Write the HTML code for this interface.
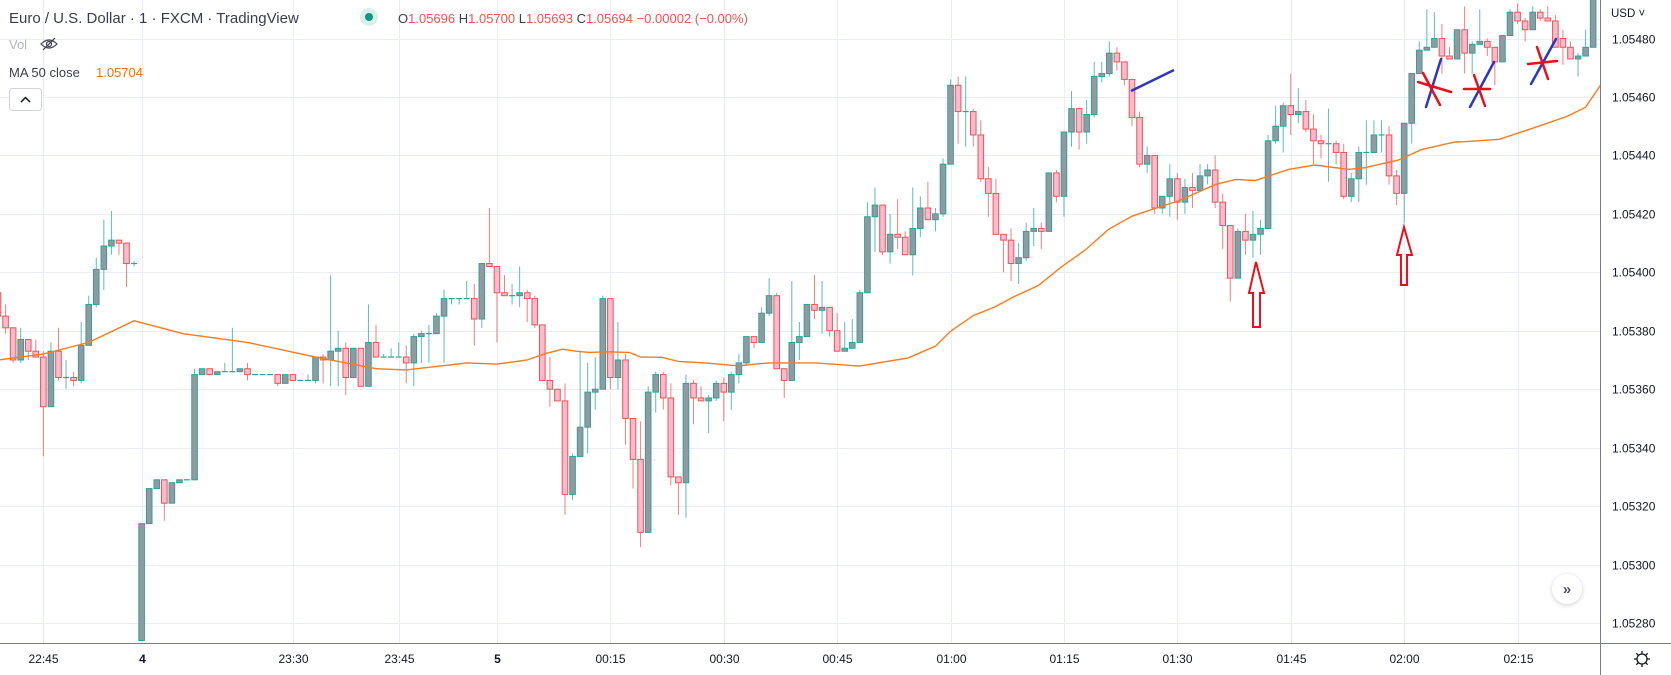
<!DOCTYPE html>
<html><head><meta charset="utf-8">
<style>
html,body{margin:0;padding:0;background:#fff;overflow:hidden}
svg{display:block;font-family:"Liberation Sans",sans-serif}
</style></head>
<body>
<svg id="chart" width="1671" height="675" viewBox="0 0 1671 675" xmlns="http://www.w3.org/2000/svg">
  <rect x="0" y="0" width="1671" height="675" fill="#ffffff"/>
  <defs><clipPath id="plotClip"><rect x="0" y="0" width="1600" height="643"/></clipPath>
  <filter id="sh" x="-50%" y="-50%" width="200%" height="200%"><feDropShadow dx="0" dy="1" stdDeviation="2" flood-color="#000" flood-opacity="0.2"/></filter></defs>
  <g id="grid"></g>
  <g id="plot" clip-path="url(#plotClip)">
    <g id="candles"></g>
    <polyline id="ma" fill="none" stroke="#ff7a1a" stroke-width="1.4"/>
    <g id="annotations">
      <line x1="1131" y1="91" x2="1174" y2="70" stroke="#2d35c8" stroke-width="2.5"/>
      <path d="M1256 262 L1264 293 L1260 293 L1260 327 L1253 327 L1253 293 L1249 293 Z" fill="none" stroke="#e8111a" stroke-width="2"/>
      <path d="M1404 227 L1412 255 L1407 255 L1407 285 L1401 285 L1401 255 L1397 255 Z" fill="none" stroke="#e8111a" stroke-width="2"/>
      <g stroke-width="2.5" stroke-linecap="round">
        <line x1="1426" y1="107" x2="1441" y2="59" stroke="#2d35c8"/>
        <line x1="1418" y1="82" x2="1451" y2="92" stroke="#e8111a"/>
        <line x1="1423" y1="73" x2="1440" y2="105" stroke="#e8111a"/>
      </g>
      <g stroke-width="2.5" stroke-linecap="round">
        <line x1="1470" y1="107" x2="1494" y2="62" stroke="#2d35c8"/>
        <line x1="1464" y1="89" x2="1490" y2="89" stroke="#e8111a"/>
        <line x1="1474" y1="75" x2="1485" y2="106" stroke="#e8111a"/>
      </g>
      <g stroke-width="2.5" stroke-linecap="round">
        <line x1="1531" y1="84" x2="1556" y2="39" stroke="#2d35c8"/>
        <line x1="1528" y1="64" x2="1557" y2="61" stroke="#e8111a"/>
        <line x1="1537" y1="47" x2="1548" y2="79" stroke="#e8111a"/>
      </g>
    </g>
  </g>
  <line x1="1600.5" y1="0" x2="1600.5" y2="675" stroke="#787b86" stroke-width="1"/>
  <line x1="0" y1="643.5" x2="1671" y2="643.5" stroke="#787b86" stroke-width="1"/>
  <g id="yaxis" font-size="12" fill="#131722"></g>
  <g id="xaxis" font-size="12" fill="#131722"></g>
  <text x="1611" y="17" font-size="11.5" fill="#131722">USD ˅</text>
  <g transform="translate(1642,659)" fill="none" stroke="#131722" stroke-width="1.3">
    <circle r="5"/>
    <path d="M0 -8 V-5 M0 5 V8 M-8 0 H-5 M5 0 H8 M-5.7 -5.7 L-3.5 -3.5 M3.5 3.5 L5.7 5.7 M-5.7 5.7 L-3.5 3.5 M3.5 -3.5 L5.7 -5.7"/>
  </g>
  <g>
    <circle cx="1567" cy="589" r="15" fill="#fff" filter="url(#sh)"/>
    <text x="1567" y="594" font-size="15" font-weight="bold" fill="#50535e" text-anchor="middle">»</text>
  </g>
  <!-- legend -->
  <text x="9" y="23" font-size="15" fill="#3a3e4a">Euro / U.S. Dollar · 1 · FXCM · TradingView</text>
  <circle cx="369" cy="17" r="9" fill="#d9f0eb"/>
  <circle cx="369" cy="17" r="4" fill="#089981"/>
  <text x="398" y="23" font-size="13" fill="#3a3e4a">O<tspan fill="#ef5350">1.05696</tspan> H<tspan fill="#ef5350">1.05700</tspan> L<tspan fill="#ef5350">1.05693</tspan> C<tspan fill="#ef5350">1.05694</tspan> <tspan fill="#ef5350">−0.00002 (−0.00%)</tspan></text>
  <text x="9" y="49" font-size="13" fill="#b2b5be">Vol</text>
  <g transform="translate(49,44)" fill="none" stroke="#3a3e4a" stroke-width="1.2">
    <path d="M-8 0 Q0 -8 8 0 Q0 8 -8 0 Z"/><circle r="2.5"/><line x1="-6" y1="6" x2="6" y2="-6"/>
  </g>
  <text x="9" y="77" font-size="13" fill="#3a3e4a">MA 50 close</text>
  <text x="96" y="77" font-size="13" fill="#ff6d00">1.05704</text>
  <g>
    <rect x="9.5" y="88.5" width="32" height="22" rx="3" fill="#fff" stroke="#d1d4dc"/>
    <path d="M21 102 L25.5 97.5 L30 102" fill="none" stroke="#131722" stroke-width="1.5"/>
  </g>
</svg>
<script>
// price values in units of 0.00001 above 1.05000
const openV=[393,385,381,370,377,373,371,354,373,364,364,363,375,389,401,409,411,410,403,274,314,326,329,321,328,329,329,365,367,365,366,366,366,367,365,365,365,365,362,365,363,363,363,371,370,373,374,364,374,361,376,371,371,371,371,369,378,379,379,385,391,391,391,391,384,403,402,393,392,392,393,391,382,363,360,356,324,337,347,359,360,391,364,370,350,336,311,359,365,357,330,328,362,357,356,357,362,359,365,369,378,376,386,392,367,363,376,378,389,387,388,380,373,374,376,393,419,423,407,413,412,406,415,422,418,420,437,464,455,455,447,432,427,413,411,403,405,414,415,414,434,426,448,456,448,454,467,468,475,472,466,453,437,440,422,426,432,424,429,428,433,435,424,416,398,414,411,413,415,445,450,457,454,455,449,445,444,444,441,426,432,441,441,447,447,433,427,451,468,476,477,480,474,473,483,475,478,479,477,472,481,489,486,483,489,487,486,480,477,473,474,477];
const highV=[394,389,381,381,377,377,373,376,381,370,366,383,392,405,418,421,411,410,404,314,326,329,329,328,329,329,367,367,367,366,369,381,367,369,365,365,365,365,365,365,363,365,371,372,399,380,376,374,374,389,382,372,374,376,375,379,380,382,386,394,391,391,397,396,403,422,402,399,396,402,394,392,382,371,360,362,338,373,369,371,392,391,383,372,350,349,361,366,366,362,330,365,363,361,358,363,364,366,372,378,378,388,398,393,367,397,383,389,399,397,388,386,383,384,394,424,429,423,420,425,414,429,426,431,422,439,466,467,467,456,452,436,432,413,415,410,417,422,417,434,435,448,462,456,459,472,472,479,477,472,466,455,443,440,426,437,434,432,434,437,437,440,427,416,415,420,421,418,447,457,458,468,463,459,454,447,456,445,444,434,443,452,452,452,450,435,451,468,479,490,489,485,477,483,491,479,490,480,477,481,490,492,487,491,490,491,488,483,479,475,483,500];
const lowV=[384,379,369,369,370,371,337,354,363,360,361,362,375,388,394,406,406,395,402,274,314,326,315,321,328,329,329,365,365,365,366,366,366,363,365,365,365,361,362,363,363,363,362,362,361,361,358,364,361,361,371,371,371,371,362,361,369,369,379,369,389,389,391,375,381,402,376,392,389,388,383,381,363,354,356,317,322,337,338,353,360,360,360,341,326,306,311,352,353,327,317,316,348,356,345,356,349,353,362,368,374,376,385,367,357,363,370,378,384,379,378,373,373,374,376,393,407,406,403,408,406,399,412,418,414,419,437,444,443,443,431,419,413,400,397,396,404,409,408,414,424,419,443,442,444,453,465,467,469,464,450,436,434,420,420,419,418,420,422,428,430,422,408,390,398,406,405,406,415,444,441,447,451,448,437,439,431,437,425,424,424,430,441,441,430,423,417,444,468,476,477,468,473,473,468,468,478,474,464,472,481,485,479,483,486,486,477,471,473,467,474,477];
const closeV=[385,381,370,377,373,371,354,373,364,364,363,375,389,401,409,411,410,403,403,314,326,329,321,328,329,329,365,367,365,366,366,366,367,365,365,365,365,362,365,363,363,363,371,370,373,374,364,374,361,376,371,371,371,371,369,378,379,379,385,391,391,391,391,384,403,402,393,392,392,393,391,382,363,360,356,324,337,347,359,360,391,364,370,350,336,311,359,365,357,330,328,362,357,356,357,362,359,365,369,378,376,386,392,367,363,376,378,389,387,388,380,373,374,376,393,419,423,407,413,412,406,415,422,418,420,437,464,455,455,447,432,427,413,411,403,405,414,415,414,434,426,448,456,448,454,467,468,475,472,466,453,437,440,422,426,432,424,429,428,433,435,424,416,398,414,411,413,415,445,450,457,454,455,449,445,444,444,441,426,432,441,441,447,447,433,427,451,468,476,477,480,474,473,483,475,478,479,477,472,481,489,486,483,489,487,486,477,477,473,474,477,500];
const maIdx=[0,6,12,18,24.5,33,42,45,50,54,57,62,66,70,72.5,74.7,76.5,78.2,80.4,83.5,85,87.8,90,93.5,97.9,102,108.2,113.9,116,120.4,124,126,129,131.9,134.5,137.6,140.7,143.8,146.9,150,152.6,156.1,161,163.7,166.3,170.7,174.2,178.6,180.8,185.2,188.3,192.7,194,198.6,203,207.5,210,212.5];
const maVal=[370,372,376,383.4,379,376,371,369.5,367,366.6,367.5,369,368.6,370,372.3,373.7,373,372.6,372.8,372.6,371,370.9,369.5,369,368,369,369,367.9,368.8,370.7,374.7,379.8,385.2,388.2,391.8,395.5,401.9,407.6,414.7,419.2,421.5,424.4,430,431.8,431.4,435.2,436.7,435.2,435.8,438.4,442,444.6,444.7,445.5,449.3,453.3,456.5,466];
const priceTicks=[480,460,440,420,400,380,360,340,320,300,280];
const timeTickIdx=[6,19,39,53,66,81,96,111,126,141,156,171,186,201];
const timeTickLabels=["22:45","4","23:30","23:45","5","00:15","00:30","00:45","01:00","01:15","01:30","01:45","02:00","02:15"];

const NS="http://www.w3.org/2000/svg";
function xOf(i){return -2+i*7.56;}
function yOf(p){return 38.5+(480-p)*2.9225;}
function mk(tag,attrs,parent){const e=document.createElementNS(NS,tag);for(const k in attrs)e.setAttribute(k,attrs[k]);parent.appendChild(e);return e;}

const grid=document.getElementById('grid');
const yaxis=document.getElementById('yaxis');
const xaxis=document.getElementById('xaxis');
priceTicks.forEach(p=>{
  const y=Math.round(yOf(p))+0.5;
  const g=mk('line',{x1:0,y1:y,x2:1600,y2:y,stroke:'#eaeef3','stroke-width':1},grid);
  
  
  const t=mk('text',{x:1612,y:y+4},yaxis);
  t.textContent='1.05'+String(p).padStart(3,'0');
  
  
});
timeTickIdx.forEach((ix,k)=>{
  const x=Math.round(xOf(ix))+0.5;
  const g=mk('line',{x1:x,y1:0,x2:x,y2:643,stroke:'#eaeef3','stroke-width':1},grid);
  
  
  const lab=timeTickLabels[k];
  const t=mk('text',{x:x,y:663,'text-anchor':'middle'},xaxis);
  if(lab.length===1)t.setAttribute('font-weight','bold');
  t.textContent=lab;
  
  
});

const cg=document.getElementById('candles');
for(let i=0;i<openV.length;i++){
  const o=openV[i],h=highV[i],l=lowV[i],c=closeV[i];
  const up=c>=o;
  const x=xOf(i);
  const line=up?'#26a69a':'#ef5350';
  const fill=up?'#9598a1':'#f8bbd0';
  const g=mk('g',{},cg);
  
  
  mk('line',{x1:x,y1:yOf(h),x2:x,y2:yOf(l),stroke:line,'stroke-width':1,'stroke-opacity':0.75},g);
  const top=yOf(Math.max(o,c)),bot=yOf(Math.min(o,c));
  const hh=Math.max(bot-top,1);
  if(hh<=1.5){
    mk('line',{x1:x-3,y1:top,x2:x+3,y2:top,stroke:line,'stroke-width':1.2},g);
  }else{
    mk('rect',{x:x-2.8,y:top,width:5.6,height:hh,fill:fill,stroke:line,'stroke-width':1},g);
  }
}
const pts=maIdx.map((ix,k)=>xOf(ix).toFixed(1)+','+yOf(maVal[k]).toFixed(1)).join(' ');
document.getElementById('ma').setAttribute('points',pts);
</script>
</body></html>
